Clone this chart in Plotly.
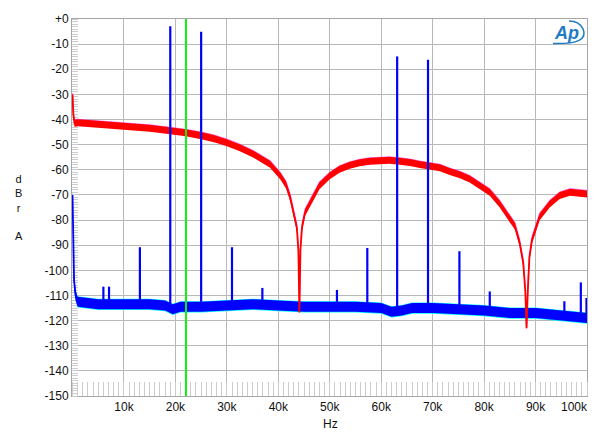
import plotly.graph_objects as go

# ---------------- data ----------------
red_freq = [0, 150, 400, 1000, 3000, 5000, 7000, 10000, 13000, 15000, 17000, 20000,
            22000, 25000, 27500, 30000, 32500, 35000, 36500, 38400, 40400, 41500,
            42300, 43000, 43600, 43900, 44100, 44300, 44600, 45200, 46100, 48000,
            50000, 51900, 53900, 55800, 57800, 59700, 61600, 63600, 65600, 67500,
            69400, 71400, 73300, 75300, 77200, 79200, 81100, 83000, 85000, 86000,
            86900, 87600, 88000, 88250, 88500, 88800, 89300, 89900, 90800, 92800,
            94700, 96700, 98600, 100000]
red_db = [-30, -38, -41.5, -41.3, -41.6, -41.9, -42.2, -42.6, -43.1, -43.5, -44.0, -44.7,
          -45.3, -46.4, -47.6, -49.2, -51.2, -53.6, -55.4, -57.8, -62.5, -66,
          -71, -77, -83, -92, -116.8, -92, -83, -77, -73.5, -66.3,
          -62.4, -59.8, -58.2, -57.2, -56.6, -56.3, -56.2, -56.6, -57.1, -57.9,
          -58.5, -59.2, -60.7, -62.0, -63.7, -66.3, -68.9, -73.5, -79.4, -82.5,
          -89, -97, -108, -123, -108, -95, -88, -84, -78.7, -73.5,
          -70.2, -68.9, -69.3, -69.6]
red_hi = [-29.5, -37, -40, -39.9, -40.2, -40.5, -40.8, -41.2, -41.7, -42.1, -42.6, -43.3,
          -43.9, -45.0, -46.2, -47.8, -49.8, -52.2, -54.0, -56.4, -61.1, -64.6,
          -69.6, -75.6, -81.6, -90.6, -116, -90.6, -81.6, -75.6, -72.1, -64.9,
          -61.0, -58.4, -56.8, -55.8, -55.2, -54.9, -54.8, -55.2, -55.7, -56.5,
          -57.1, -57.8, -59.3, -60.6, -62.3, -64.9, -67.5, -72.1, -78.0, -81.1,
          -87.6, -95.6, -106.6, -122, -106.6, -93.6, -86.6, -82.6, -77.3, -72.1,
          -68.8, -67.5, -67.9, -68.2]
red_lo = [-31, -39.5, -43, -42.7, -43.0, -43.3, -43.6, -44.0, -44.5, -44.9, -45.4, -46.1,
          -46.7, -47.8, -49.0, -50.6, -52.6, -55.0, -56.8, -59.2, -63.9, -67.4,
          -72.4, -78.4, -84.4, -93.4, -117.6, -93.4, -84.4, -78.4, -74.9, -67.7,
          -63.8, -61.2, -59.6, -58.6, -58.0, -57.7, -57.6, -58.0, -58.5, -59.3,
          -59.9, -60.6, -62.1, -63.4, -65.1, -67.7, -70.3, -74.9, -80.8, -83.9,
          -90.4, -98.4, -109.4, -124, -109.4, -96.4, -89.4, -85.4, -80.1, -74.9,
          -71.6, -70.3, -70.7, -71.0]

blue_freq = [0, 100, 300, 600, 1000, 5000, 10000, 15000, 18000, 19500, 21000, 25000,
             30000, 35000, 40000, 45000, 50000, 55000, 60000, 62000, 64000, 66000,
             70000, 75000, 80000, 85000, 90000, 95000, 100000]
blue_db = [-70, -90, -104, -110, -112.5, -113.5, -113.5, -113.5, -114, -115.5, -114.5, -114.5,
           -114, -113.5, -114, -114.5, -114.5, -114.5, -115, -116.5, -116, -115,
           -115, -115.5, -116, -117, -117, -118, -119]
blue_hi = [-68, -88, -102, -108, -110.5, -111.5, -111.5, -111.5, -112, -113.5, -112.5, -112.5,
           -112, -111.5, -112, -112.5, -112.5, -112.5, -113, -114.5, -114, -113,
           -113, -113.5, -114, -115, -115, -116, -117]
blue_lo = [-72, -92, -106, -112, -114.5, -115.5, -115.5, -115.5, -116, -117.5, -116.5, -116.5,
           -116, -115.5, -116, -116.5, -116.5, -116.5, -117, -118.5, -118, -117,
           -117, -117.5, -118, -119, -119, -120, -121]
cyan_hi = [-67.3, -87.8, -101.8, -107.8, -110.3, -111.3, -111.3, -111.3, -111.8, -113.3, -112.3, -112.3,
           -111.8, -111.3, -111.8, -112.3, -112.3, -112.3, -112.8, -114.3, -113.8, -112.8,
           -112.8, -113.3, -113.8, -114.8, -114.8, -115.8, -116.8]
cyan_lo = [-72.3, -92.3, -106.3, -112.3, -114.8, -115.8, -115.8, -115.8, -116.3, -117.8, -116.8, -116.8,
           -116.3, -115.8, -116.3, -116.8, -116.8, -116.8, -117.3, -118.8, -118.3, -117.3,
           -117.3, -117.8, -118.3, -119.3, -119.3, -120.3, -121.3]

spike_freq = [6000, 7100, 13100, 19000, 25000, 31000, 36900, 51400, 57300, 63100,
              69100, 75200, 81100, 95600, 98800, 99900]
spike_db = [-106.5, -106.5, -90.8, -2.9, -5.1, -90.8, -107, -107.8, -91.1, -14.9,
            -16.2, -92.4, -108.4, -112.3, -104.8, -111]
spike_base = [-113.5, -113.5, -113.5, -114, -114.5, -114, -113.7, -114.5, -114.5, -116.3,
              -115, -115.5, -116.2, -118.1, -118.8, -119]

marker_freq = 22050

x_ticks = [10000, 20000, 30000, 40000, 50000, 60000, 70000, 80000, 90000]
x_labels = ["10k", "20k", "30k", "40k", "50k", "60k", "70k", "80k", "90k"]
y_ticks = list(range(0, -151, -10))
y_labels = ["+0"] + [str(v) for v in y_ticks[1:]]

# ---------------- figure ----------------
W, H = 600, 437
L, R, T, B = 72, 13, 12, 41
PW, PH = W - L - R, H - T - B


def px(x):
    return (x - L) / PW


def py(y):
    return (H - B - y) / PH


RED, MAG, BLUE, CYAN = "#ff0000", "#ff33ff", "#0000ff", "#00ffff"

fig = go.Figure()


def band(xs, lo, hi, color):
    fig.add_trace(go.Scatter(x=xs, y=lo, mode="lines", line=dict(width=0, color=color),
                             hoverinfo="skip"))
    fig.add_trace(go.Scatter(x=xs, y=hi, mode="lines", line=dict(width=0, color=color),
                             fill="tonexty", fillcolor=color, hoverinfo="skip"))


# noise floor (cyan channel under blue channel)
band(blue_freq, cyan_lo, cyan_hi, CYAN)
band(blue_freq, blue_lo, blue_hi, BLUE)
fig.add_trace(go.Scatter(x=blue_freq, y=blue_db, mode="lines",
                         line=dict(color=BLUE, width=1.8), hoverinfo="skip"))

# filter response (magenta channel peeking under red)
fig.add_trace(go.Scatter(x=red_freq, y=red_hi, mode="lines",
                         line=dict(color=MAG, width=1.2), opacity=0.6, hoverinfo="skip"))
band(red_freq, red_lo, red_hi, RED)
fig.add_trace(go.Scatter(x=red_freq, y=red_db, mode="lines",
                         line=dict(color=RED, width=1.8), hoverinfo="skip"))

# tones / distortion spikes
sx, sy = [], []
for f, d, b0 in zip(spike_freq, spike_db, spike_base):
    sx += [f, f, None]
    sy += [b0, d, None]
fig.add_trace(go.Scatter(x=sx, y=sy, mode="lines",
                         line=dict(color=BLUE, width=2.2), hoverinfo="skip"))

fig.add_vline(x=marker_freq, line=dict(color="#11ee11", width=2), layer="above")

font = dict(family="Liberation Sans, Arial, sans-serif", size=12, color="#111111")

fig.update_layout(
    width=W, height=H, margin=dict(l=L, r=R, t=T, b=B),
    paper_bgcolor="white", plot_bgcolor="white", showlegend=False,
    font=font,
)
fig.update_xaxes(
    range=[-100, 100000], tickvals=x_ticks, ticktext=x_labels, ticks="",
    showgrid=True, gridcolor="#b8b8b8", gridwidth=1, zeroline=False,
    showline=True, linecolor="#a6a6a6", linewidth=1, mirror=True,
    layer="below traces",
    minor=dict(dtick=1000, tick0=0, ticks="inside", ticklen=14,
               tickcolor="#cccccc", tickwidth=1, showgrid=False),
    tickfont=font,
)
fig.update_yaxes(
    range=[-150, 0], tickvals=y_ticks, ticktext=y_labels, ticks="",
    showgrid=True, gridcolor="#b8b8b8", gridwidth=1, zeroline=False,
    showline=True, linecolor="#a6a6a6", linewidth=1, mirror=True,
    layer="below traces",
    minor=dict(dtick=1, tick0=0, ticks="inside", ticklen=6,
               tickcolor="#cccccc", tickwidth=1, showgrid=False),
    tickfont=font,
)

# last x label shifted inside, as in the reference
fig.add_annotation(x=px(574), y=py(407), xref="paper", yref="paper", text="100k",
                   showarrow=False, font=font, xanchor="center", yanchor="middle")

# x-axis title
fig.add_annotation(x=px(330), y=py(425), xref="paper", yref="paper", text="Hz",
                   showarrow=False, font=font, xanchor="center", yanchor="middle")

# vertical axis label, one letter per line
fig.add_annotation(x=px(19), y=py(204.5), xref="paper", yref="paper",
                   text="d<br>B<br>r<br>&nbsp;<br>A", showarrow=False,
                   font=dict(family="Liberation Sans, Arial, sans-serif", size=11,
                             color="#111111"),
                   xanchor="center", yanchor="middle", align="center")

# Ap logo
logo_col = "#1f7bc4"
fig.add_annotation(x=px(566), y=py(26), xref="paper", yref="paper",
                   text="<i><b>Ap</b></i>", showarrow=False,
                   font=dict(family="Liberation Sans, Arial", size=18, color=logo_col),
                   xanchor="center", yanchor="middle")
path = (f"M {px(553)} {py(37)} Q {px(590)} {py(38)} {px(583)} {py(22)} "
        f"Q {px(579)} {py(14)} {px(569)} {py(14)}")
fig.add_shape(type="path", path=path, xref="paper", yref="paper",
              line=dict(color=logo_col, width=1.5))

fig.write_html("out.html")
